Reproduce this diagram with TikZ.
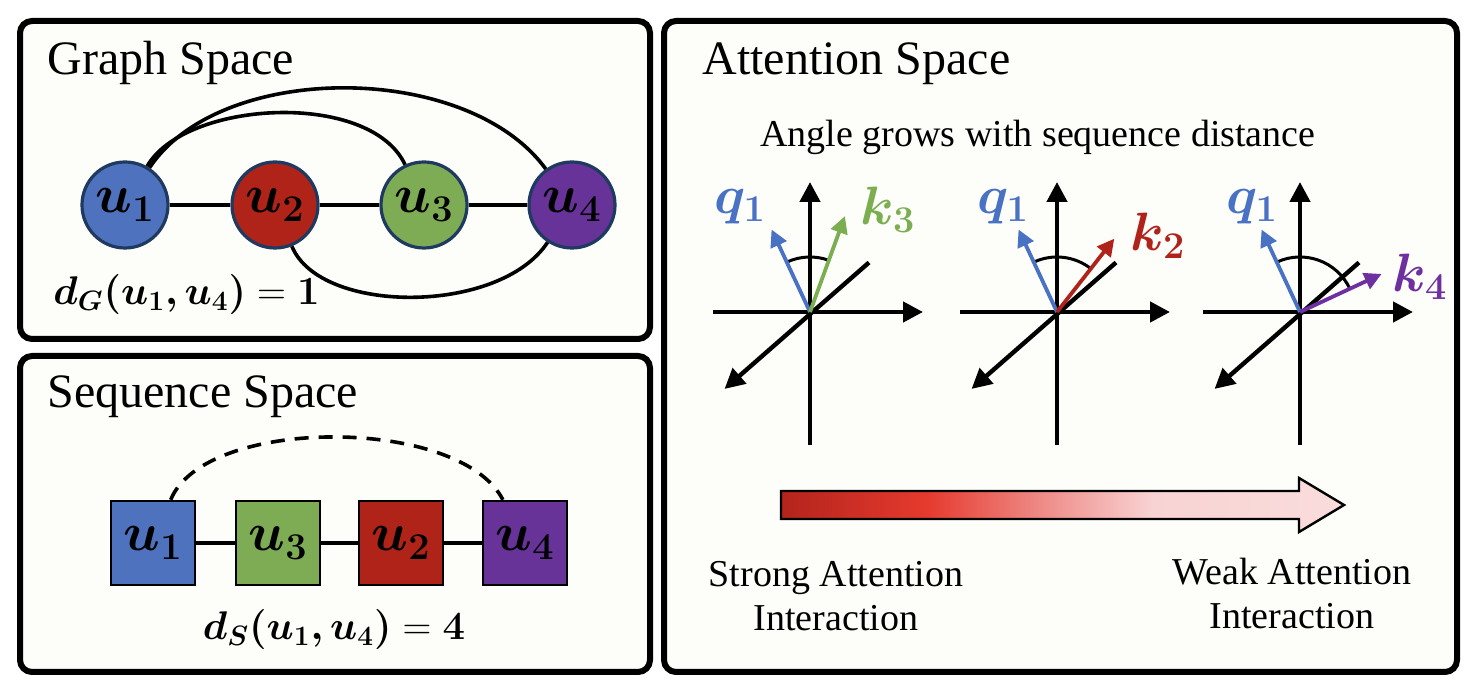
\RequirePackage{fix-cm}
\documentclass[tikz,border=0pt]{standalone}
\usepackage{amsmath,bm}
\usepackage[no-math]{fontspec}
\setmainfont{Liberation Serif}
\usetikzlibrary{arrows.meta}

\definecolor{panelbg}{HTML}{FDFDF9}
\definecolor{navy}{HTML}{1F3A60}
\definecolor{ublue}{HTML}{4F72BE}
\definecolor{ured}{HTML}{AF2318}
\definecolor{ugreen}{HTML}{7EAC55}
\definecolor{upurple}{HTML}{673399}
\definecolor{qblue}{HTML}{4A72C4}
\definecolor{kgreen}{HTML}{7AAE50}
\definecolor{kred}{HTML}{B0231A}
\definecolor{kpurple}{HTML}{6E30A0}
\definecolor{sdark}{HTML}{B3241C}
\definecolor{sred}{HTML}{E63A2E}
\definecolor{smid}{HTML}{EE8A86}
\definecolor{spink}{HTML}{F8D3D3}
\definecolor{slight}{HTML}{FADCDC}

% only 25bp..75bp of a shading is seen on the path
\pgfdeclarehorizontalshading{heat}{100bp}{color(0bp)=(sdark); color(25bp)=(sdark); color(38bp)=(sred); color(48bp)=(smid); color(58bp)=(spink); color(75bp)=(slight); color(100bp)=(slight)}

\newcommand\mathsz{\fontsize{27}{30}\selectfont}

\begin{document}
\begin{tikzpicture}[x=0.5pt,y=0.5pt]
\tikzstyle{panel}=[draw=black, line width=3pt, rounded corners=6pt, fill=panelbg]
\tikzstyle{title}=[anchor=base west, inner sep=0pt, font=\fontsize{24}{28}\selectfont]
\tikzstyle{gnode}=[circle, draw=navy, line width=1.6pt, minimum size=43pt, inner sep=0pt, font=\mathsz]
\tikzstyle{snode}=[rectangle, draw=black, line width=1.2pt, minimum size=42pt, inner sep=0pt, font=\mathsz]
\tikzstyle{link}=[line width=1.8pt]
\tikzstyle{axis}=[line width=2.2pt, -{Triangle[length=10pt,width=10pt]}]
\tikzstyle{vec}=[line width=1.9pt, -{Triangle[length=8.5pt,width=8.5pt]}]
\tikzstyle{annot}=[align=center, font=\fontsize{19}{22}\selectfont]

\useasboundingbox (0,0) rectangle (1478,-688);

% Panels
\draw[panel] (20,-21) rectangle (650,-339);
\draw[panel] (20,-356) rectangle (650,-672);
\draw[panel] (664,-21) rectangle (1457,-672);
\node[title] (gtitle) at (47,-75) {Graph Space};
\node[title] (stitle) at (47,-408) {Sequence Space};
\node[title] (atitle) at (702,-75) {Attention Space};

% Graph space nodes
\foreach \name/\x/\col in {1/125/ublue, 2/275/ured, 3/424/ugreen, 4/572/upurple}
\node[gnode, fill=\col] (G-\name) at (\x,-205) {$\bm{u_{\name}}$};

\draw[link] (G-1) -- (G-2);
\draw[link] (G-2) -- (G-3);
\draw[link] (G-3) -- (G-4);
\draw[link] (G-1) .. controls (220,-61) and (467,-61) .. (G-4);
\draw[link] (G-1) .. controls (185,-100) and (370,-90) .. (G-3);
\draw[link] (G-2) .. controls (320,-315) and (500,-315) .. (G-4);

\node[anchor=base west, inner sep=0pt, font=\fontsize{20}{24}\selectfont] (dg) at (53,-305) {$\bm{d_G(u_1,u_4)}=\mathbf{1}$};

% Sequence space nodes, in sequence order
\foreach \name/\x/\col in {1/153/ublue, 3/278/ugreen, 2/401/ured, 4/525/upurple}
\node[snode, fill=\col] (S-\name) at (\x,-543) {$\bm{u_{\name}}$};

\draw[link] (S-1) -- (S-3);
\draw[link] (S-3) -- (S-2);
\draw[link] (S-2) -- (S-4);
\draw[line width=1.8pt, dash pattern=on 7pt off 5pt] (S-1) .. controls (205,-416) and (460,-416) .. (S-4);

\node[anchor=base, inner sep=0pt, font=\fontsize{20}{24}\selectfont] (ds) at (334,-640) {$\bm{d_S(u_1,u_4)}=\mathbf{4}$};

% Attention space
\node[anchor=base, inner sep=0pt, font=\fontsize{19}{22}\selectfont] (angle) at (1038,-147) {Angle grows with sequence distance};

\foreach \i/\ox/\qx/\ka/\kl/\kcol/\klab/\lx/\ly in {1/810/740/70/102/kgreen/k_3/888/210, 2/1057/1003/52/93/kred/k_2/1158/236, 3/1300/1252/25/90/kpurple/k_4/1420/277}
{
  \coordinate (O-\i) at (\ox,-312);
  \coordinate (T-\i) at (\ox,-182);
  \coordinate (B-\i) at (\ox,-445);
  \coordinate (L-\i) at (\ox-97,-312);
  \coordinate (R-\i) at (\ox+113,-312);
  \path (O-\i) ++(222:115) coordinate (D-\i);
  \path (O-\i) ++(40:77) coordinate (E-\i);
  \path (O-\i) ++(115:91) coordinate (Q-\i);
  \path (O-\i) ++(\ka:\kl) coordinate (K-\i);
  % axes
  \draw[axis] (B-\i) -- (T-\i);
  \draw[axis] (L-\i) -- (R-\i);
  \draw[axis] (E-\i) -- (D-\i);
  % angle between query and key
  \draw[line width=1.5pt] (O-\i) ++(115:55) arc[start angle=115, end angle=\ka, radius=55];
  % query and key vectors
  \draw[vec, draw=qblue] (O-\i) -- (Q-\i);
  \draw[vec, draw=\kcol] (O-\i) -- (K-\i);
  \node[text=qblue, font=\mathsz] (q-\i) at (\qx,-207) {$\bm{q_1}$};
  \node[text=\kcol, font=\mathsz] (k-\i) at (\lx,-\ly) {$\bm{\klab}$};
}

% Strength arrow
\shade[shading=heat, draw=black, line width=1.2pt] (781,-491) -- (1299,-491) -- (1299,-478) -- (1344,-505) -- (1299,-532) -- (1299,-519) -- (781,-519) -- cycle;

\node[annot] (strong) at (836,-596) {Strong Attention\\Interaction};
\node[annot] (weak) at (1292,-594) {Weak Attention\\Interaction};
\end{tikzpicture}
\end{document}
